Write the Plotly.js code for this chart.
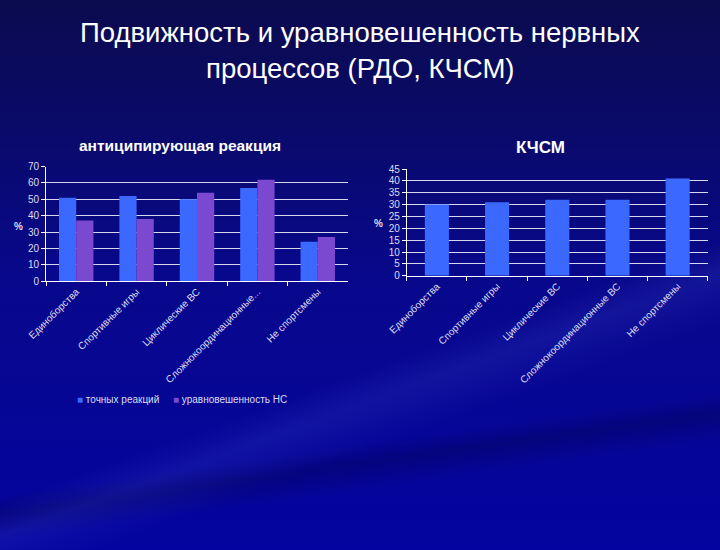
<!DOCTYPE html>
<html>
<head>
<meta charset="utf-8">
<script src="https://cdn.plot.ly/plotly-3.0.1.min.js"></script>
<style>
html,body{margin:0;padding:0;width:720px;height:550px;overflow:hidden;}
body{
 background:
  linear-gradient(160deg, rgba(255,255,255,0) 62%, rgba(120,140,255,0.10) 66%, rgba(255,255,255,0) 72%),
  linear-gradient(172deg, rgba(0,0,40,0) 76%, rgba(0,0,40,0.25) 79%, rgba(0,0,40,0) 83%),
  linear-gradient(180deg, #0b0b4e 0%, #0a0a6c 25%, #08088c 50%, #0404a0 100%);
}
#chart{width:720px;height:550px;}
</style>
</head>
<body>
<div id="chart"></div>
<script>
var categories = ["Единоборства", "Спортивные игры", "Циклические ВС", "Сложнокоординационные ВС", "Не спортсмены"];
var leftTickLabels = ["Единоборства", "Спортивные игры", "Циклические ВС", "Сложнокоординационные...", "Не спортсмены"];
var seriesNames = ["точных реакций", "уравновешенность НС"];
var exactReactions = [51, 52, 50, 57, 24];
var balanceNS = [37, 38, 54, 62, 27];
var kchsmValues = [30, 31, 32, 32, 41];
var titleLines = ["Подвижность и уравновешенность нервных", "процессов (РДО, КЧСМ)"];
var leftTitle = "антиципирующая реакция";
var rightTitle = "КЧСМ";

var blue = "#3b68ff";
var purple = "#7b48d0";
var font = "Liberation Sans, Arial, sans-serif";
var txt = "#dcdcf0";

var traces = [
 {type:"bar", x:categories, y:exactReactions, name:seriesNames[0], marker:{color:blue}, xaxis:"x", yaxis:"y"},
 {type:"bar", x:categories, y:balanceNS, name:seriesNames[1], marker:{color:purple}, xaxis:"x", yaxis:"y"},
 {type:"bar", x:categories, y:kchsmValues, name:"КЧСМ", marker:{color:blue}, width:0.4, xaxis:"x2", yaxis:"y2"}
];

var axX = {
 type:"category", showgrid:false, showline:true, linecolor:"#ffffff", linewidth:1,
 ticks:"outside", tickson:"boundaries", ticklen:4, tickcolor:"#ffffff",
 tickangle:-45, tickfont:{family:font, size:10, color:txt}
};
var axY = {
 showline:true, linecolor:"#ffffff", linewidth:1, ticks:"outside", ticklen:4, tickcolor:"#ffffff",
 gridcolor:"#d8d8ec", gridwidth:1, zeroline:false,
 tickfont:{family:font, size:10, color:txt}
};

function ann(text, x, y, size, color, anchor) {
 return {text:text, xref:"paper", yref:"paper", x:x/720, y:1-y/550, xanchor:anchor||"center", yanchor:"middle",
  showarrow:false, font:{family:font, size:size, color:color}};
}

var layout = {
 width:720, height:550,
 margin:{l:0,r:0,t:0,b:0},
 paper_bgcolor:"rgba(0,0,0,0)", plot_bgcolor:"rgba(0,0,0,0)",
 showlegend:false,
 barmode:"group", bargap:0.43, bargroupgap:0,
 xaxis:Object.assign({}, axX, {domain:[0.0639,0.4833], anchor:"y", tickvals:categories, ticktext:leftTickLabels}),
 yaxis:Object.assign({}, axY, {domain:[0.489,0.697], anchor:"x", range:[0,70], dtick:10}),
 xaxis2:Object.assign({}, axX, {domain:[0.565,0.983], anchor:"y2"}),
 yaxis2:Object.assign({}, axY, {domain:[0.4987,0.6927], anchor:"x2", range:[0,45], dtick:5}),
 annotations:[
  ann(titleLines[0], 360, 32, 27.5, "#ffffff"),
  ann(titleLines[1], 360, 68, 27.5, "#ffffff"),
  ann("<b>"+leftTitle+"</b>", 180, 145, 15.5, "#ffffff"),
  ann("<b>"+rightTitle+"</b>", 540, 147, 17, "#ffffff"),
  ann("<b>%</b>", 18, 226, 10, txt),
  ann("<b>%</b>", 378, 223, 10, txt),
  ann("<span style='color:"+blue+"'>■</span> "+seriesNames[0], 75, 399, 10, txt, "left"),
  ann("<span style='color:"+purple+"'>■</span> "+seriesNames[1], 171, 399, 10, txt, "left")
 ]
};

Plotly.newPlot("chart", traces, layout, {displayModeBar:false, staticPlot:true});
</script>
</body>
</html>
